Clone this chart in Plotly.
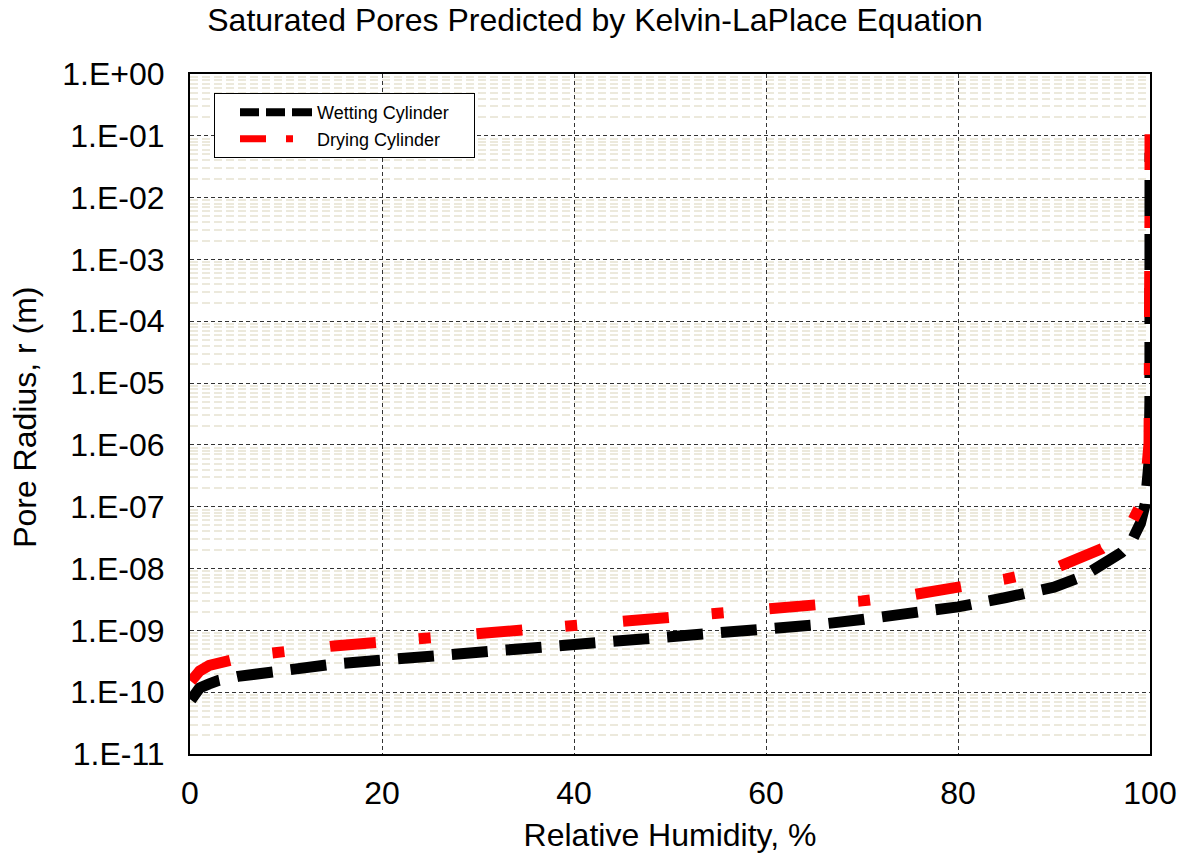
import plotly.graph_objects as go

# Relative humidity (%) sample points
rh = [0.1, 0.5, 1, 2, 3, 5, 8, 10, 15, 20, 25, 30, 35, 40, 45, 50, 55, 60, 65,
      70, 75, 80, 85, 90, 93, 95, 97, 98, 99, 99.5, 99.9, 99.99, 99.999,
      99.9999, 99.99999, 99.999999]

# Pore radius (m), wetting cylinder
wetting = [7.5e-11, 9.8e-11, 1.17e-10, 1.36e-10, 1.55e-10, 1.8e-10, 2.1e-10,
           2.35e-10, 2.85e-10, 3.3e-10, 3.8e-10, 4.4e-10, 5.1e-10, 5.9e-10,
           6.7e-10, 7.7e-10, 8.8e-10, 1.03e-9, 1.22e-9, 1.5e-9, 1.85e-9,
           2.4e-9, 3.4e-9, 5.0e-9, 7.5e-9, 1.1e-8, 1.8e-8, 2.6e-8, 5.4e-8,
           1.1e-7, 5.3e-7, 5.3e-6, 5.3e-5, 5.3e-4, 5.3e-3, 5.3e-2]

# Pore radius (m), drying cylinder
drying = [1.5e-10, 1.9e-10, 2.2e-10, 2.7e-10, 3.0e-10, 3.5e-10, 4.2e-10,
          4.6e-10, 5.6e-10, 6.5e-10, 7.6e-10, 8.8e-10, 1.02e-9, 1.16e-9,
          1.35e-9, 1.55e-9, 1.78e-9, 2.1e-9, 2.5e-9, 3.0e-9, 3.7e-9, 4.8e-9,
          6.8e-9, 1.0e-8, 1.5e-8, 2.1e-8, 3.5e-8, 5.2e-8, 1.06e-7, 2.1e-7,
          1.06e-6, 1.06e-5, 1.06e-4, 1.06e-3, 1.06e-2, 1.06e-1]

series_names = ["Wetting Cylinder", "Drying Cylinder"]
x_ticks = [0, 20, 40, 60, 80, 100]
y_exponents = list(range(0, -12, -1))
y_tickvals = [10.0 ** e for e in y_exponents]
y_ticktext = ["1.E+00", "1.E-01", "1.E-02", "1.E-03", "1.E-04", "1.E-05",
              "1.E-06", "1.E-07", "1.E-08", "1.E-09", "1.E-10", "1.E-11"]
minor_vals = [m * 10.0 ** e for e in range(-11, 0) for m in range(2, 10)]

FONT = "Arial, Liberation Sans, sans-serif"
FS = 32
PAD = "\u00a0" * 4

fig = go.Figure()
# data traces (legend drawn by separate legend-only entries for a readable pattern)
fig.add_trace(go.Scatter(
    x=rh, y=wetting, mode="lines", name=series_names[0], showlegend=False,
    line=dict(color="black", width=11, dash="36px,18px"),
    cliponaxis=False,
))
fig.add_trace(go.Scatter(
    x=rh, y=drying, mode="lines", name=series_names[1], showlegend=False,
    line=dict(color="#FF0000", width=11, dash="46px,43px,12px,46px"),
    cliponaxis=False,
))
# legend entries
fig.add_trace(go.Scatter(
    x=[None], y=[None], mode="lines", name=series_names[0] + PAD,
    line=dict(color="black", width=8, dash="0px,20px,19px,7px,19px,7px,20px,100px"),
))
fig.add_trace(go.Scatter(
    x=[None], y=[None], mode="lines", name=series_names[1] + PAD,
    line=dict(color="#FF0000", width=7, dash="0px,20px,26px,20px,7px,100px"),
))

fig.update_layout(
    width=1183, height=856,
    margin=dict(l=190, r=33, t=74, b=102, autoexpand=False),
    paper_bgcolor="white", plot_bgcolor="white",
    font=dict(family=FONT, color="black"),
    title=dict(text="Saturated Pores Predicted by Kelvin-LaPlace Equation",
               font=dict(size=FS, family=FONT, color="black"),
               x=0.503, xanchor="center", xref="container",
               y=0.977, yanchor="middle", yref="container"),
    legend=dict(x=0.025, y=0.972, xanchor="left", yanchor="top",
                bgcolor="white", bordercolor="black", borderwidth=1,
                font=dict(size=18, family=FONT, color="black"),
                itemwidth=92, tracegroupgap=0),
    showlegend=True,
    annotations=[dict(
        text="Pore Radius, r (m)", textangle=-90, showarrow=False,
        xref="paper", yref="paper", x=-0.172, y=0.4956,
        xanchor="center", yanchor="middle",
        font=dict(size=FS, family=FONT, color="black"),
    )],
)

fig.update_xaxes(
    range=[0, 100], tickvals=x_ticks, ticktext=[str(v) for v in x_ticks],
    tickfont=dict(size=FS, family=FONT, color="black"),
    showline=True, linecolor="black", linewidth=2, mirror=True,
    showgrid=True, gridcolor="#333333", gridwidth=1.3, griddash="4px,3px",
    zeroline=False, ticks="", ticklabelstandoff=10, automargin=False,
    title=dict(text="Relative Humidity, %", font=dict(size=FS, family=FONT, color="black"),
               standoff=13),
)
fig.update_yaxes(
    type="log", range=[-11, 0], tickvals=y_tickvals, ticktext=y_ticktext,
    tickfont=dict(size=FS, family=FONT, color="black"),
    showline=True, linecolor="black", linewidth=2, mirror=True,
    showgrid=True, gridcolor="#333333", gridwidth=1.3, griddash="4px,3px",
    zeroline=False, ticks="", ticklabelstandoff=17, automargin=False,
    minor=dict(tickmode="array", tickvals=minor_vals, showgrid=True,
               gridcolor="#ECE9DC", gridwidth=2, griddash="8px,4px", ticks=""),
)

fig.write_html("out.html")
